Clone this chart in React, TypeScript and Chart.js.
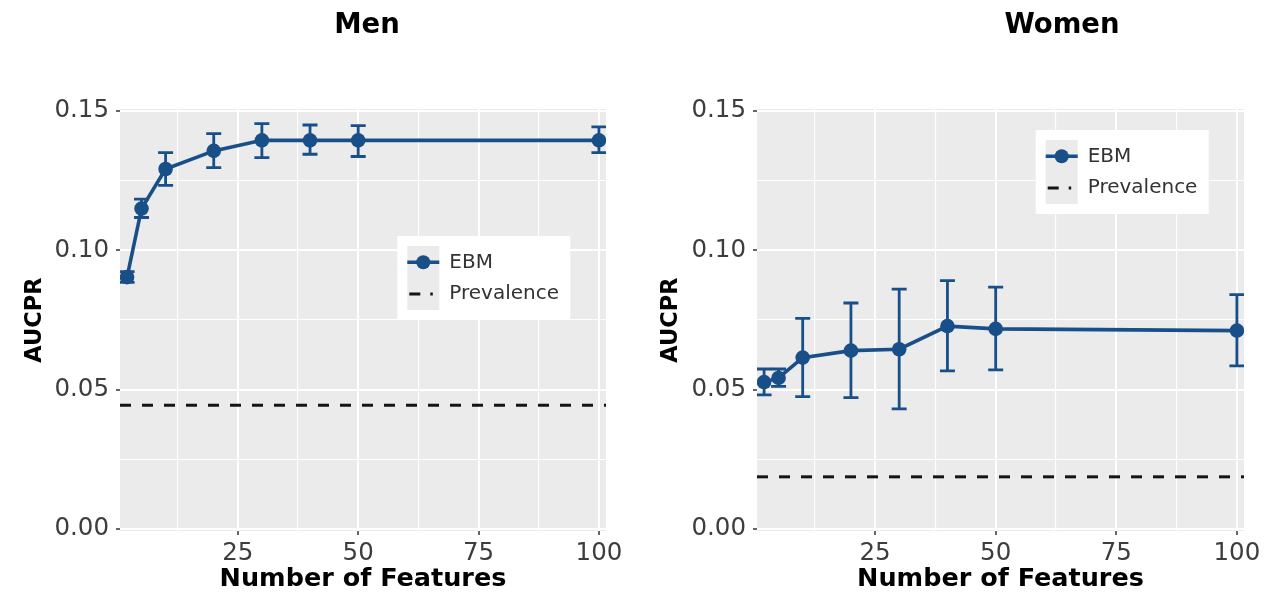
import { useEffect, useRef } from "react";
import { Chart, registerables } from "chart.js";

Chart.register(...registerables);

// ---------------- data ----------------
const features = [2, 5, 10, 20, 30, 40, 50, 100];

const menAucpr = [0.0904, 0.115, 0.1292, 0.1357, 0.1395, 0.1395, 0.1395, 0.1395];
const menLower = [0.0885, 0.1118, 0.1233, 0.1297, 0.1333, 0.1345, 0.1337, 0.1351];
const menUpper = [0.0924, 0.1184, 0.1351, 0.1419, 0.1455, 0.145, 0.1448, 0.1443];
const menPrevalence = 0.0444;

const womenAucpr = [0.0527, 0.0542, 0.0615, 0.064, 0.0645, 0.0728, 0.0718, 0.0712];
const womenLower = [0.0481, 0.0512, 0.0475, 0.0471, 0.0431, 0.0567, 0.0571, 0.0585];
const womenUpper = [0.0574, 0.0574, 0.0756, 0.0811, 0.0861, 0.0891, 0.0868, 0.0841];
const womenPrevalence = 0.0187;

const xMajorTicks = [25, 50, 75, 100];
const xMinorTicks = [12.5, 37.5, 62.5, 87.5];
const yMajorTicks = [0, 0.05, 0.1, 0.15];
const yMinorTicks = [0.025, 0.075, 0.125];

const legendLabels = ["EBM", "Prevalence"];
const panelTitles = ["Men", "Women"];
const xAxisTitle = "Number of Features";
const yAxisTitle = "AUCPR";

// ---------------- styles ----------------
const BLUE = "#184f89";
const PANEL_BG = "#ebebeb";
const TICK_TEXT = "#3d3d3d";
const FONT = "DejaVu Sans";

type PanelCfg = {
  title: string;
  titleX: number;
  mean: number[];
  low: number[];
  high: number[];
  prevalence: number;
  legendDx: number;
  legendDy: number;
  padRight: number;
  yAxisWidth: number;
};

function isIn(arr: number[], v: number) {
  return arr.some((a) => Math.abs(a - v) < 1e-9);
}

function makeChart(canvas: HTMLCanvasElement, cfg: PanelCfg) {
  const panelPlugin = {
    id: "panelDecor",
    beforeDraw(chart: any) {
      const { ctx, chartArea: ca } = chart;
      ctx.save();
      ctx.fillStyle = "#ffffff";
      ctx.fillRect(0, 0, chart.width, chart.height);
      ctx.fillStyle = PANEL_BG;
      ctx.fillRect(ca.left, ca.top, ca.right - ca.left, ca.bottom - ca.top);
      ctx.fillStyle = "#000000";
      ctx.font = `bold 27.5px "${FONT}"`;
      ctx.textAlign = "center";
      ctx.textBaseline = "alphabetic";
      ctx.fillText(cfg.title, cfg.titleX, 32.5);
      ctx.restore();
    },
    beforeDatasetsDraw(chart: any) {
      const { ctx, chartArea: ca, scales } = chart;
      const x = scales.x;
      const y = scales.y;
      ctx.save();
      ctx.beginPath();
      ctx.rect(ca.left, ca.top, ca.right - ca.left, ca.bottom - ca.top);
      ctx.clip();
      // prevalence line
      const py = y.getPixelForValue(cfg.prevalence);
      ctx.strokeStyle = "#141414";
      ctx.lineWidth = 3;
      ctx.setLineDash([11, 11]);
      ctx.beginPath();
      ctx.moveTo(ca.left, py);
      ctx.lineTo(ca.right, py);
      ctx.stroke();
      ctx.setLineDash([]);
      // error bars
      ctx.strokeStyle = BLUE;
      ctx.lineWidth = 2.8;
      features.forEach((f, i) => {
        const px = x.getPixelForValue(f);
        const yl = y.getPixelForValue(cfg.low[i]);
        const yh = y.getPixelForValue(cfg.high[i]);
        ctx.beginPath();
        ctx.moveTo(px, yl);
        ctx.lineTo(px, yh);
        ctx.moveTo(px - 7.5, yl);
        ctx.lineTo(px + 7.5, yl);
        ctx.moveTo(px - 7.5, yh);
        ctx.lineTo(px + 7.5, yh);
        ctx.stroke();
      });
      ctx.restore();
    },
    afterDraw(chart: any) {
      const { ctx, chartArea: ca } = chart;
      const bx = ca.left + cfg.legendDx;
      const by = ca.top + cfg.legendDy;
      const bw = 173;
      const bh = 84;
      ctx.save();
      ctx.fillStyle = "#ffffff";
      ctx.fillRect(bx, by, bw, bh);
      const kx = bx + 10;
      const ky = by + 10;
      const kw = 32;
      const kh = 64;
      ctx.fillStyle = PANEL_BG;
      ctx.fillRect(kx, ky, kw, kh);
      const r1 = by + 26.3;
      const r2 = by + 58;
      // EBM key
      ctx.strokeStyle = BLUE;
      ctx.lineWidth = 3.5;
      ctx.beginPath();
      ctx.moveTo(kx, r1);
      ctx.lineTo(kx + kw, r1);
      ctx.stroke();
      ctx.fillStyle = BLUE;
      ctx.beginPath();
      ctx.arc(kx + kw / 2, r1, 7, 0, Math.PI * 2);
      ctx.fill();
      // Prevalence key
      ctx.strokeStyle = "#141414";
      ctx.lineWidth = 3;
      ctx.setLineDash([11, 10, 2.5, 100]);
      ctx.beginPath();
      ctx.moveTo(kx + 2, r2);
      ctx.lineTo(kx + kw - 2, r2);
      ctx.stroke();
      ctx.setLineDash([]);
      // text
      ctx.fillStyle = "#333333";
      ctx.font = `20px "${FONT}"`;
      ctx.textAlign = "left";
      ctx.textBaseline = "middle";
      ctx.fillText(legendLabels[0], bx + 52, r1);
      ctx.fillText(legendLabels[1], bx + 52, r2);
      ctx.restore();
    },
  };

  return new Chart(canvas, {
    type: "line",
    data: {
      datasets: [
        {
          label: legendLabels[0],
          data: features.map((f, i) => ({ x: f, y: cfg.mean[i] })),
          borderColor: BLUE,
          backgroundColor: BLUE,
          borderWidth: 3.6,
          pointRadius: 7.3,
          pointBackgroundColor: BLUE,
          pointBorderWidth: 0,
          tension: 0,
          fill: false,
        },
      ],
    },
    plugins: [panelPlugin],
    options: {
      animation: false,
      responsive: false,
      events: [],
      layout: { padding: { left: 0, right: cfg.padRight, top: 109, bottom: 0 } },
      plugins: {
        legend: { display: false },
        tooltip: { enabled: false },
        title: { display: false },
      },
      scales: {
        x: {
          type: "linear",
          min: 0.53,
          max: 101.47,
          afterBuildTicks: (s: any) => {
            s.ticks = [...xMinorTicks, ...xMajorTicks]
              .sort((a, b) => a - b)
              .map((v) => ({ value: v }));
          },
          afterFit: (s: any) => {
            s.height = 64;
            s.paddingLeft = 0;
            s.paddingRight = 0;
          },
          ticks: {
            autoSkip: false,
            maxRotation: 0,
            minRotation: 0,
            padding: 4,
            color: TICK_TEXT,
            font: { family: FONT, size: 24.5 },
            callback: (v: any) => (isIn(xMajorTicks, Number(v)) ? String(v) : ""),
          },
          grid: {
            color: "#ffffff",
            lineWidth: (c: any) => (c.tick && isIn(xMajorTicks, c.tick.value) ? 2 : 1.1),
            tickLength: 4,
            tickWidth: 1.5,
            tickColor: (c: any) =>
              c.tick && isIn(xMajorTicks, c.tick.value) ? "#333333" : "rgba(0,0,0,0)",
          },
          border: { display: false },
          title: {
            display: true,
            text: xAxisTitle,
            color: "#000000",
            font: { family: FONT, size: 25.5, weight: "bold" },
            padding: { top: 0, bottom: 0 },
          },
        },
        y: {
          type: "linear",
          min: -0.00075,
          max: 0.15075,
          afterBuildTicks: (s: any) => {
            s.ticks = [...yMinorTicks, ...yMajorTicks]
              .sort((a, b) => a - b)
              .map((v) => ({ value: v }));
          },
          afterFit: (s: any) => {
            s.width = cfg.yAxisWidth;
            s.paddingTop = 0;
            s.paddingBottom = 0;
          },
          ticks: {
            autoSkip: false,
            padding: 7,
            color: TICK_TEXT,
            font: { family: FONT, size: 24.5 },
            callback: (v: any) => (isIn(yMajorTicks, Number(v)) ? Number(v).toFixed(2) : ""),
          },
          grid: {
            color: "#ffffff",
            lineWidth: (c: any) => (c.tick && isIn(yMajorTicks, c.tick.value) ? 2 : 1.1),
            tickLength: 4,
            tickWidth: 1.5,
            tickColor: (c: any) =>
              c.tick && isIn(yMajorTicks, c.tick.value) ? "#333333" : "rgba(0,0,0,0)",
          },
          border: { display: false },
          title: {
            display: true,
            text: yAxisTitle,
            color: "#000000",
            font: { family: FONT, size: 22.5, weight: "bold" },
            padding: { top: 22, bottom: 0 },
          },
        },
      },
    } as any,
  });
}

export default function App() {
  const leftRef = useRef<HTMLCanvasElement>(null);
  const rightRef = useRef<HTMLCanvasElement>(null);

  useEffect(() => {
    const men: PanelCfg = {
      title: panelTitles[0],
      titleX: 367,
      mean: menAucpr,
      low: menLower,
      high: menUpper,
      prevalence: menPrevalence,
      legendDx: 277.3,
      legendDy: 127,
      padRight: 29,
      yAxisWidth: 120,
    };
    const women: PanelCfg = {
      title: panelTitles[1],
      titleX: 426,
      mean: womenAucpr,
      low: womenLower,
      high: womenUpper,
      prevalence: womenPrevalence,
      legendDx: 278.7,
      legendDy: 21,
      padRight: 27,
      yAxisWidth: 121,
    };
    const c1 = makeChart(leftRef.current as HTMLCanvasElement, men);
    const c2 = makeChart(rightRef.current as HTMLCanvasElement, women);
    return () => {
      c1.destroy();
      c2.destroy();
    };
  }, []);

  return (
    <div
      style={{
        position: "fixed",
        left: 0,
        top: 0,
        width: 1271,
        height: 595,
        background: "#ffffff",
        overflow: "hidden",
      }}
    >
      <canvas
        ref={leftRef}
        width={635}
        height={595}
        style={{ position: "absolute", left: 0, top: 0 }}
      />
      <canvas
        ref={rightRef}
        width={635}
        height={595}
        style={{ position: "absolute", left: 636, top: 0 }}
      />
    </div>
  );
}
